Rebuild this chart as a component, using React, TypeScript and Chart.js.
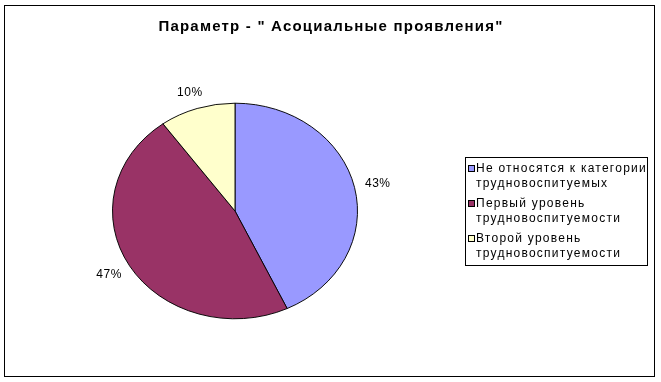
import React, { useEffect, useRef } from "react";
import { Chart, registerables } from "chart.js";

Chart.register(...registerables);

const title = 'Параметр - " Асоциальные проявления"';
const categories: string[][] = [
  ["Не относятся к категории", "трудновоспитуемых"],
  ["Первый уровень", "трудновоспитуемости"],
  ["Второй уровень", "трудновоспитуемости"],
];
const values = [43, 47, 10];
const colors = ["#9999FF", "#993366", "#FFFFCC"];

const W = 661;
const H = 382;
const Y_SCALE = 0.88; // pie drawn as ellipse (vertical squash)

export default function App() {
  const ref = useRef<HTMLCanvasElement | null>(null);

  useEffect(() => {
    const canvas = ref.current;
    if (!canvas) return;

    const ellipsePlugin = {
      id: "ellipse",
      beforeDatasetsDraw(chart: any) {
        const arc = chart.getDatasetMeta(0).data[0];
        const ctx = chart.ctx;
        ctx.save();
        ctx.translate(arc.x, arc.y);
        ctx.scale(1, Y_SCALE);
        ctx.translate(-arc.x, -arc.y);
      },
      afterDatasetsDraw(chart: any) {
        chart.ctx.restore();
      },
    };

    const decorPlugin = {
      id: "decor",
      afterDraw(chart: any) {
        const ctx = chart.ctx as CanvasRenderingContext2D;
        ctx.save();
        // outer frame
        ctx.strokeStyle = "#000";
        ctx.lineWidth = 1;
        ctx.strokeRect(4.5, 5.5, 650, 371);

        // title
        ctx.fillStyle = "#000";
        ctx.font = "bold 15px 'Liberation Sans', Arial, sans-serif";
        (ctx as any).letterSpacing = "1.2px";
        ctx.textAlign = "center";
        ctx.textBaseline = "alphabetic";
        ctx.fillText(title, 331, 31);

        // percentage labels
        const meta = chart.getDatasetMeta(0);
        const total = values.reduce((a, b) => a + b, 0);
        ctx.font = "12px 'Liberation Sans', Arial, sans-serif";
        (ctx as any).letterSpacing = "0.5px";
        ctx.textAlign = "center";
        ctx.textBaseline = "middle";
        meta.data.forEach((arc: any, i: number) => {
          const mid = (arc.startAngle + arc.endAngle) / 2;
          const c = Math.cos(mid);
          const s = Math.sin(mid);
          const px = arc.x + arc.outerRadius * c;
          const py = arc.y + arc.outerRadius * Y_SCALE * s;
          const txt = Math.round((values[i] / total) * 100) + "%";
          const w = ctx.measureText(txt).width;
          const d = 11;
          const lx = px + c * d + (c * w) / 2;
          const ly = py + s * d + (s * 12) / 2;
          ctx.fillText(txt, lx, ly);
        });

        // legend
        const lx0 = 465.5, ly0 = 157.5, lw = 182, lh = 108;
        ctx.strokeStyle = "#000";
        ctx.strokeRect(lx0, ly0, lw, lh);
        ctx.font = "12px 'Liberation Sans', Arial, sans-serif";
        (ctx as any).letterSpacing = "1.25px";
        ctx.textAlign = "left";
        ctx.textBaseline = "alphabetic";
        categories.forEach((lines, i) => {
          const top = 172 + i * 35;
          ctx.fillStyle = colors[i];
          ctx.fillRect(468, top - 7, 7, 7);
          ctx.strokeStyle = "#000";
          ctx.strokeRect(468.5, top - 6.5, 6, 6);
          ctx.fillStyle = "#000";
          lines.forEach((ln, j) => {
            ctx.fillText(ln, 476, top + j * 15);
          });
        });
        ctx.restore();
      },
    };

    const chart = new Chart(canvas, {
      type: "pie",
      data: {
        labels: categories,
        datasets: [
          {
            data: values,
            backgroundColor: colors,
            borderColor: "#000",
            borderWidth: 1,
          },
        ],
      },
      options: {
        responsive: false,
        animation: false,
        events: [],
        layout: {
          padding: { left: 112, right: 303, top: 88, bottom: 48 },
        },
        plugins: {
          legend: { display: false },
          title: { display: false },
          tooltip: { enabled: false },
        },
      },
      plugins: [ellipsePlugin, decorPlugin],
    });
    return () => chart.destroy();
  }, []);

  return (
    <div style={{ position: "fixed", left: 0, top: 0, width: W, height: H, background: "#fff" }}>
      <canvas ref={ref} width={W} height={H} style={{ width: W, height: H, display: "block" }} />
    </div>
  );
}
